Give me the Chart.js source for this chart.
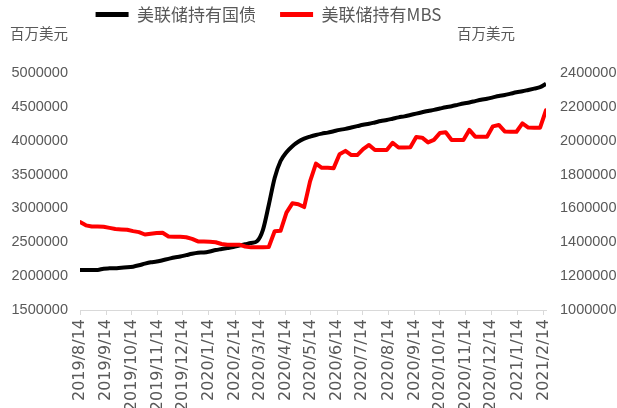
<!DOCTYPE html>
<html><head><meta charset="utf-8">
<script src="https://cdn.jsdelivr.net/npm/chart.js@4.4.1/dist/chart.umd.min.js"></script>
<style>html,body{margin:0;padding:0;background:#fff;overflow:hidden}</style>
</head><body>
<canvas id="c" width="617" height="408"></canvas>
<script>
const dates = [
'2019-08-14','2019-08-21','2019-08-28','2019-09-04','2019-09-11','2019-09-18','2019-09-25','2019-10-02','2019-10-09','2019-10-16',
'2019-10-23','2019-10-30','2019-11-06','2019-11-13','2019-11-20','2019-11-27','2019-12-04','2019-12-11','2019-12-18','2019-12-25',
'2020-01-01','2020-01-08','2020-01-15','2020-01-22','2020-01-29','2020-02-05','2020-02-12','2020-02-19','2020-02-26','2020-03-04',
'2020-03-11','2020-03-18','2020-03-25','2020-04-01','2020-04-08','2020-04-15','2020-04-22','2020-04-29','2020-05-06','2020-05-13',
'2020-05-20','2020-05-27','2020-06-03','2020-06-10','2020-06-17','2020-06-24','2020-07-01','2020-07-08','2020-07-15','2020-07-22',
'2020-07-29','2020-08-05','2020-08-12','2020-08-19','2020-08-26','2020-09-02','2020-09-09','2020-09-16','2020-09-23','2020-09-30',
'2020-10-07','2020-10-14','2020-10-21','2020-10-28','2020-11-04','2020-11-11','2020-11-18','2020-11-25','2020-12-02','2020-12-09',
'2020-12-16','2020-12-23','2020-12-30','2021-01-06','2021-01-13','2021-01-20','2021-01-27','2021-02-03','2021-02-10','2021-02-17'
];
const treasury = [
2090000,2090000,2090000,2092000,2110000,2115000,2118000,2125000,2130000,2140000,
2160000,2185000,2205000,2215000,2235000,2255000,2275000,2290000,2310000,2330000,
2345000,2350000,2365000,2385000,2400000,2415000,2430000,2450000,2470000,2490000,
2515000,2680000,3050000,3450000,3700000,3830000,3920000,3985000,4030000,4060000,
4085000,4105000,4120000,4140000,4160000,4175000,4195000,4215000,4235000,4250000,
4270000,4290000,4305000,4325000,4345000,4360000,4380000,4400000,4420000,4440000,
4455000,4475000,4495000,4510000,4530000,4550000,4565000,4585000,4605000,4620000,
4640000,4660000,4675000,4695000,4715000,4730000,4750000,4770000,4790000,4840000
];
const mbs = [
1520000,1500000,1493000,1493000,1492000,1485000,1478000,1476000,1474000,1466000,
1460000,1446000,1451000,1455000,1456000,1434000,1432000,1432000,1430000,1420000,
1405000,1404000,1403000,1400000,1390000,1386000,1386000,1386000,1375000,1370000,
1370000,1370000,1372000,1465000,1468000,1575000,1630000,1625000,1608000,1760000,
1865000,1840000,1840000,1838000,1920000,1940000,1915000,1915000,1950000,1975000,
1945000,1945000,1945000,1988000,1960000,1960000,1962000,2022000,2018000,1990000,
2005000,2045000,2050000,2004000,2004000,2004000,2064000,2024000,2024000,2024000,
2085000,2093000,2055000,2053000,2053000,2103000,2078000,2077000,2077000,2180000
];
const xTickLabels = ['2019/8/14','2019/9/14','2019/10/14','2019/11/14','2019/12/14','2020/1/14','2020/2/14','2020/3/14','2020/4/14','2020/5/14','2020/6/14','2020/7/14','2020/8/14','2020/9/14','2020/10/14','2020/11/14','2020/12/14','2021/1/14','2021/2/14'];
const leftTicks = [1500000,2000000,2500000,3000000,3500000,4000000,4500000,5000000];
const rightTicks = [1000000,1200000,1400000,1600000,1800000,2000000,2200000,2400000];
const seriesNames = ['美联储持有国债','美联储持有MBS'];
const unitLabel = '百万美元';

const DAY = 86400000;
const origin = Date.UTC(2019,7,14);
function dayOf(s){ const p = s.split(/[-\/]/).map(Number); return (Date.UTC(p[0],p[1]-1,p[2]) - origin)/DAY; }

const GRAY = '#595959';

const layoutFix = {
  id:'layoutFix',
  afterLayout(chart){
    const lg = chart.legend; if(!lg) return;
    const dx = -40, dy = -40;
    lg.left += dx; lg.right += dx; lg.top += dy; lg.bottom += dy;
  },
  afterDraw(chart){
    const ctx = chart.ctx;
    ctx.save();
    ctx.font = '14.5px "Noto Sans CJK SC"';
    ctx.fillStyle = GRAY;
    ctx.textBaseline = 'middle';
    ctx.textAlign = 'left';
    ctx.fillText(unitLabel, 10, 33);
    ctx.fillText(unitLabel, 457, 33);
    ctx.restore();
  }
};

new Chart(document.getElementById('c'), {
  type:'line',
  data:{
    datasets:[
      {label:seriesNames[0], data:dates.map((d,i)=>({x:dayOf(d), y:treasury[i]})), borderColor:'#000000', backgroundColor:'#000000', borderWidth:4, pointRadius:0, yAxisID:'y', cubicInterpolationMode:'monotone', order:1},
      {label:seriesNames[1], data:dates.map((d,i)=>({x:dayOf(d), y:mbs[i]})), borderColor:'#ff0000', backgroundColor:'#ff0000', borderWidth:4, pointRadius:0, yAxisID:'y1', tension:0, borderJoinStyle:'round', borderCapStyle:'round', order:0}
    ]
  },
  options:{
    responsive:false,
    devicePixelRatio:1,
    animation:false,
    layout:{padding:{top:22,left:0,right:0,bottom:0}},
    plugins:{
      tooltip:{enabled:false},
      legend:{
        display:true, position:'top', align:'center',
        labels:{
          boxWidth:33, boxHeight:5, padding:24, color:GRAY,
          font:{family:'"Noto Sans CJK SC"', size:17},
          sort:(a,b)=>a.datasetIndex-b.datasetIndex,
          generateLabels:(chart)=>Chart.defaults.plugins.legend.labels.generateLabels(chart).map(l=>({...l, lineWidth:0, fillStyle:l.strokeStyle}))
        }
      }
    },
    scales:{
      x:{
        type:'linear', min:0, max:dayOf('2021-02-17'),
        afterBuildTicks:s=>{ s.ticks = xTickLabels.map(l=>({value:dayOf(l)})); },
        ticks:{autoSkip:false, minRotation:90, maxRotation:90, padding:4, color:GRAY, font:{family:'DejaVu Sans', size:16}, callback:(v,i)=>xTickLabels[i]},
        grid:{display:true, drawOnChartArea:false, drawTicks:true, tickLength:5, color:'#d9d9d9'},
        border:{display:true, color:'#d9d9d9', width:1},
        afterFit:s=>{ s.height = 98; }
      },
      y:{
        position:'left', min:1500000, max:5000000,
        afterBuildTicks:s=>{ s.ticks = leftTicks.map(v=>({value:v})); },
        ticks:{color:GRAY, font:{family:'Liberation Sans', size:14.5}, padding:12, callback:v=>String(v)},
        grid:{display:false, drawTicks:false},
        border:{display:false},
        afterFit:s=>{ s.width = 80; }
      },
      y1:{
        position:'right', min:1000000, max:2400000,
        afterBuildTicks:s=>{ s.ticks = rightTicks.map(v=>({value:v})); },
        ticks:{color:GRAY, font:{family:'Liberation Sans', size:14.5}, padding:14, callback:v=>String(v)},
        grid:{display:false, drawTicks:false},
        border:{display:false},
        afterFit:s=>{ s.width = 71; }
      }
    }
  },
  plugins:[layoutFix]
});
</script>
</body></html>
